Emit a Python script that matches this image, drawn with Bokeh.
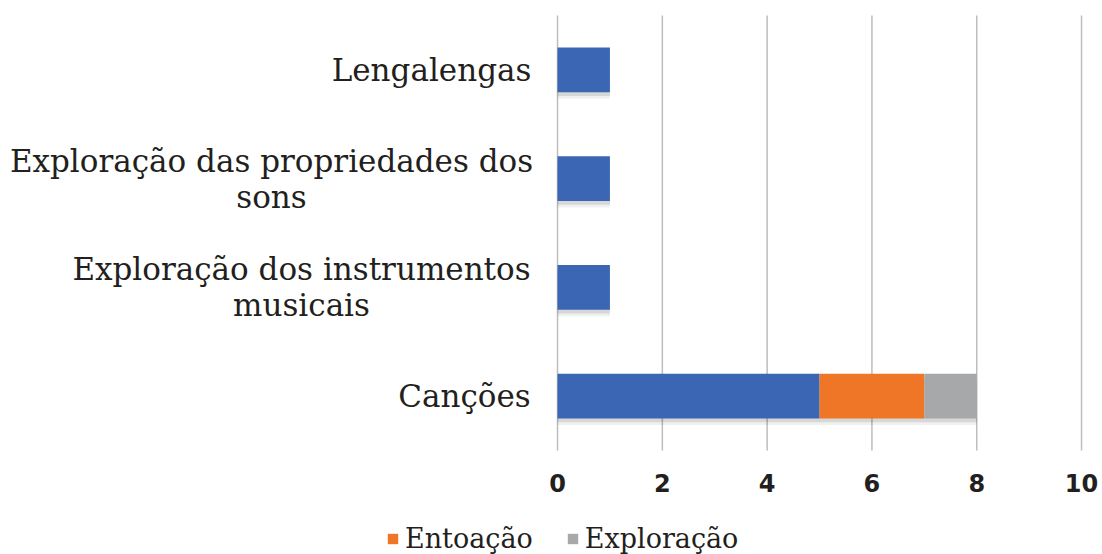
from bokeh.plotting import figure
from bokeh.models import ColumnDataSource, Legend, LegendItem, Range1d
from bokeh.core.properties import value
from bokeh.embed import file_html
from bokeh.resources import INLINE

# Categories (bottom to top) and their displayed labels
categorias = [
    "Canções",
    "Exploração dos instrumentos musicais",
    "Exploração das propriedades dos sons",
    "Lengalengas",
]
rotulos = [
    "Canções",
    "Exploração dos instrumentos\nmusicais",
    "Exploração das propriedades dos\nsons",
    "Lengalengas",
]

# Series values
geral = [5, 1, 1, 1]
entoacao = [2, 0, 0, 0]
exploracao = [1, 0, 0, 0]

series = ["geral", "Entoação", "Exploração"]
cores = ["#3b66b4", "#ee7626", "#a7a8aa"]

x_ticks = [0, 2, 4, 6, 8, 10]
x_tick_labels = ["0", "2", "4", "6", "8", "10"]

# band centre of each category on the numeric y scale
pos = [i + 0.5 for i in range(len(categorias))]
total = [a + b + c for a, b, c in zip(geral, entoacao, exploracao)]

source = ColumnDataSource(dict(
    pos=pos,
    geral=geral,
    **{"Entoação": entoacao, "Exploração": exploracao},
    total=total,
))

# one frame over the whole canvas: value scale 0..10 on the right,
# category bands 0..4 vertically, room below for tick labels and legend
p = figure(
    width=1102, height=554,
    x_range=Range1d(-10.63, 10.40),
    y_range=Range1d(-0.956, 4.138),
    x_axis_location=None, y_axis_location=None,
    output_backend="svg", toolbar_location=None,
    min_border=0,
)
p.outline_line_color = None
p.background_fill_color = "white"
p.grid.visible = False

# vertical grid lines across the category bands
p.segment(x0=x_ticks, x1=x_ticks, y0=0, y1=len(categorias),
          line_color="#bdbdbd", line_width=1.5)

# soft drop shadow under each bar
shadow_pos = [y - 0.035 for y in pos]
p.hbar(y=shadow_pos, left=0, right=total, height=0.41,
       fill_color="#000000", fill_alpha=0.10, line_color=None)
shadow_pos2 = [y - 0.06 for y in pos]
p.hbar(y=shadow_pos2, left=0, right=total, height=0.41,
       fill_color="#000000", fill_alpha=0.06, line_color=None)

bars = p.hbar_stack(series, y="pos", height=0.41, color=cores, line_color=None, source=source)

# value tick labels below the bands
p.text(x=x_ticks, y=0, text=x_tick_labels, y_offset=32,
       text_align="center", text_baseline="middle",
       text_font=value("DejaVu Sans"), text_font_style="bold",
       text_font_size="24px", text_color="#231f20")

# category labels, right-aligned block with centred lines
label_centres = [-93, -256, -286, -126]
lab_src = ColumnDataSource(dict(y=pos, text=rotulos, x=[0] * 4, xo=label_centres))
p.text(x="x", y="y", text="text", x_offset="xo", source=lab_src,
       text_align="center", text_baseline="middle",
       text_font=value("DejaVu Serif"), text_font_size="31px",
       text_color="#231f20", text_line_height=1.0)

legend = Legend(
    items=[LegendItem(label="Entoação", renderers=[bars[1]]),
           LegendItem(label="Exploração", renderers=[bars[2]])],
    location=(386, 0), orientation="horizontal",
    border_line_color=None, background_fill_alpha=0,
    label_text_font="DejaVu Serif", label_text_font_size="27px",
    label_text_color="#231f20",
    glyph_width=13, glyph_height=13, label_standoff=6, spacing=33,
    padding=0, margin=0,
)
p.add_layout(legend)

open("out.html", "w").write(file_html(p, INLINE))
